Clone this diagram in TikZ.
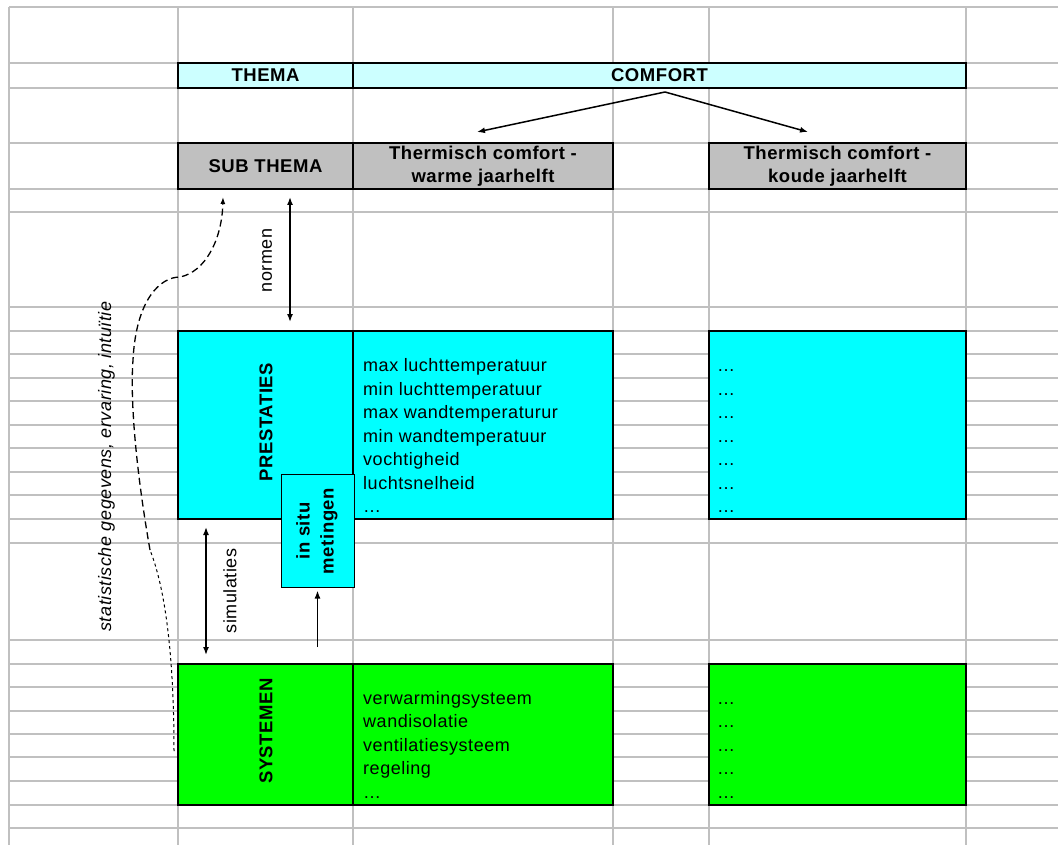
\documentclass[tikz,border=0pt]{standalone}
\usepackage{fontspec}
\setmainfont[LetterSpace=3]{Liberation Sans}
\usetikzlibrary{arrows.meta}
\definecolor{gridgray}{RGB}{192,192,192}
\definecolor{themacyan}{RGB}{204,255,255}
\definecolor{subgray}{RGB}{192,192,192}
\definecolor{prestcyan}{RGB}{0,255,255}
\definecolor{sysgreen}{RGB}{0,255,0}
\newcommand\cellfont{\fontsize{18}{23.5}\selectfont}
\newcommand\headfont{\fontsize{18.5}{23.5}\selectfont\bfseries}

\begin{document}
\begin{tikzpicture}[x=1pt,y=-1pt,
  gridline/.style={draw=gridgray,line width=1.6pt},
  cell/.style args={#1x#2}{draw=black,line width=2pt,minimum width=#1pt,minimum height=#2pt,inner sep=0pt},
  boldtxt/.style={font=\headfont,inner sep=0pt,align=center},
  lbltxt/.style={font=\cellfont,inner sep=0pt},
  listtxt/.style={font=\cellfont,inner sep=0pt,anchor=base west},
  arr/.style={line width=1.5pt,-{Latex[length=8pt,width=6pt]}},
  dblarr/.style={line width=1.5pt,{Latex[length=8pt,width=6pt]}-{Latex[length=8pt,width=6pt]},shorten <=7pt,shorten >=8pt}]
\path[use as bounding box,fill=white](0,0) rectangle (1058,845);
%
% grid
\foreach \gx in {9,178,353,613,709,966}
  \draw[gridline](\gx,7)--(\gx,845);
\foreach \gy in {7,63,88,143,189,212,307,331,354,378,401,425,448,472,495,519,543,640,664,687,711,734,757,781,805,828}
  \draw[gridline](9,\gy)--(1058,\gy);
%
% thema and sub thema
\node[cell=175x25,fill=themacyan,boldtxt](thema) at (265.5,75.5){THEMA};
\node[cell=613x25,fill=themacyan,boldtxt](comfort) at (659.5,75.5){COMFORT};
\node[cell=175x46,fill=subgray,boldtxt](subthema) at (265.5,166){SUB THEMA};
\node[cell=260x46,fill=subgray,boldtxt](warm) at (483,166){Thermisch comfort -\\warme jaarhelft};
\node[cell=257x46,fill=subgray,boldtxt](koud) at (837.5,166){Thermisch comfort -\\koude jaarhelft};
%
% prestaties
\node[cell=175x188,fill=prestcyan](prestaties) at (265.5,425){};
\node[cell=260x188,fill=prestcyan](pwarm) at (483,425){};
\node[cell=257x188,fill=prestcyan](pkoud) at (837.5,425){};
\node[boldtxt,rotate=90](prestlbl) at (266,422){PRESTATIES};
\foreach \txt [count=\i] in {max luchttemperatuur,min luchttemperatuur,max wandtemperaturur,min wandtemperatuur,vochtigheid,luchtsnelheid,…}
  \node[listtxt](pw\i) at (363,348+23.5*\i){\txt};
\foreach \i in {1,...,7}
  \node[listtxt](pk\i) at (717,348+23.5*\i){…};
%
% systemen
\node[cell=175x141,fill=sysgreen](systemen) at (265.5,734.5){};
\node[cell=260x141,fill=sysgreen](swarm) at (483,734.5){};
\node[cell=257x141,fill=sysgreen](skoud) at (837.5,734.5){};
\node[boldtxt,rotate=90](syslbl) at (266,731){SYSTEMEN};
\foreach \txt [count=\i] in {verwarmingsysteem,wandisolatie,ventilatiesysteem,regeling,…}
  \node[listtxt](sw\i) at (363,680.5+23.5*\i){\txt};
\foreach \i in {1,...,5}
  \node[listtxt](sk\i) at (717,680.5+23.5*\i){…};
%
% in situ metingen
\node[cell=73x113,line width=1pt,fill=prestcyan](insitu) at (317.5,530.5){};
\node[boldtxt,rotate=90,font=\fontsize{18.5}{24}\selectfont\bfseries](insitulbl) at (317,531){in situ\\metingen};
%
% arrows
\coordinate (split) at (665,92);
\draw[arr](split)--([xshift=-6pt,yshift=10pt]warm.north);
\draw[arr](split)--([xshift=-29.5pt,yshift=10pt]koud.north);
\draw[dblarr]([xshift=24.5pt]subthema.south)--([xshift=24.5pt]prestaties.north);
\node[lbltxt,rotate=90](normen) at (267,260.5){normen};
\draw[dblarr]([xshift=-59.5pt]prestaties.south)--([xshift=-59.5pt]systemen.north);
\node[lbltxt,rotate=90](simul) at (230,591){simulaties};
\draw[arr,shorten <=16pt,shorten >=3pt](insitu.south |- systemen.north)--(insitu.south);
%
% dashed curve
\coordinate (dbot) at (174,751);
\coordinate (dkink) at (150,550);
\coordinate (dtop) at (223,197);
\draw[line width=1pt,dash pattern=on 3pt off 3pt](dbot) .. controls (174,660) and (166,590) .. (dkink);
\draw[line width=1.3pt,dash pattern=on 7pt off 4pt,-{Latex[length=7pt,width=5pt]}](dkink) .. controls (136,470) and (130,400) .. (133,360) .. controls (136,300) and (160,277) .. (180,277) .. controls (205,272) and (222,240) .. (dtop);
\node[lbltxt,font=\cellfont\itshape,rotate=90](stat) at (106.5,466.5){statistische gegevens, ervaring, intuïtie};
\end{tikzpicture}
\end{document}
